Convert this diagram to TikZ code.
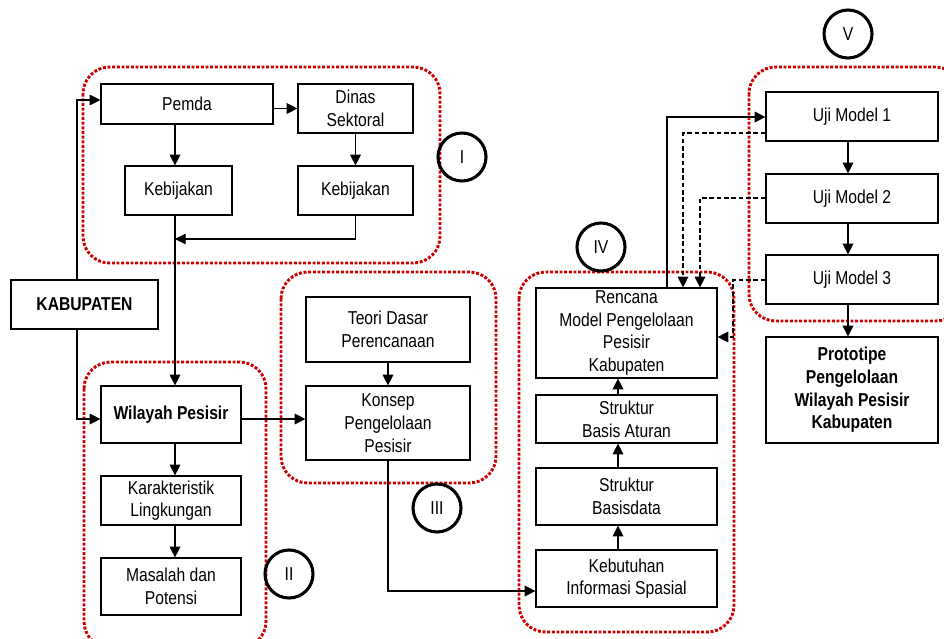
\documentclass[tikz,border=0pt]{standalone}
\usepackage{fontspec}
\setmainfont{Liberation Sans}[FakeStretch=0.84]
\usetikzlibrary{arrows.meta,calc}
\definecolor{grpred}{RGB}{204,0,0}
\begin{document}
\begin{tikzpicture}[x=0.75pt,y=-0.75pt,
  box/.style={draw, line width=0.9pt, align=center, inner sep=0pt,
    font=\fontsize{14}{17}\selectfont},
  bbox/.style={box, font=\fontsize{14}{17}\selectfont\bfseries},
  wh/.style 2 args={minimum width=#1*0.75pt, minimum height=#2*0.75pt},
  grp/.style={draw=grpred, line width=2.2pt, dash pattern=on 2.2pt off 1.3pt,
    rounded corners=20pt},
  tag/.style={draw, circle, line width=2.3pt, minimum size=48*0.75pt,
    inner sep=0pt, font=\fontsize{14}{17}\selectfont},
  arr/.style={line width=0.9pt, -{Triangle[length=8pt,width=8pt]}},
  dsh/.style={line width=0.9pt, dash pattern=on 3.5pt off 2pt,
    -{Triangle[length=8pt,width=8pt]}}]
\useasboundingbox (0,0) rectangle (944,638);

% dotted group outlines
\draw[grp] (83,67) rectangle (440,263);
\draw[grp] (84,362) rectangle (266,648);
\draw[grp] (281,272) rectangle (496,483);
\draw[grp] (519,272) rectangle (734,632);
\draw[grp] (749,67) rectangle (962,321);

% stage markers
\node[tag] (c1) at (462,157) {I};
\node[tag] (c2) at (289,574) {II};
\node[tag] (c3) at (437,508) {III};
\node[tag] (c4) at (601,247) {IV};
\node[tag] (c5) at (848,34) {V};

% boxes
\node[box, wh={172}{40}] (pemda) at (187,104) {Pemda};
\node[box, wh={115}{49}] (dinas) at (355.5,108.5) {Dinas\\Sektoral};
\node[box, wh={107}{49}] (keb1) at (178.5,190.5) {Kebijakan};
\node[box, wh={115}{49}] (keb2) at (355.5,190.5) {Kebijakan};
\node[bbox, wh={147}{49}] (kab) at (84.5,304.5) {KABUPATEN};
\node[bbox, wh={140}{57}] (wil) at (171,414.5) {Wilayah Pesisir};
\node[box, wh={140}{49}] (kar) at (171,500.5) {Karakteristik\\Lingkungan};
\node[box, wh={140}{57}] (mas) at (171,586.5) {Masalah dan\\Potensi};
\node[box, wh={164}{65}] (teori) at (388,329.5) {Teori Dasar\\Perencanaan};
\node[box, wh={164}{74}] (konsep) at (388,423) {Konsep\\Pengelolaan\\Pesisir};
\node[box, wh={181}{90}] (renc) at (626.5,333) {Rencana\\Model Pengelolaan\\Pesisir\\Kabupaten};
\node[box, wh={181}{48}] (atur) at (626.5,419) {Struktur\\Basis Aturan};
\node[box, wh={181}{57}] (bdata) at (626.5,496.5) {Struktur\\Basisdata};
\node[box, wh={181}{57}] (kebut) at (626.5,578.5) {Kebutuhan\\Informasi Spasial};
\node[box, wh={172}{49}] (uji1) at (852,116.5) {Uji Model 1};
\node[box, wh={172}{49}] (uji2) at (852,198.5) {Uji Model 2};
\node[box, wh={172}{49}] (uji3) at (852,279.5) {Uji Model 3};
\node[bbox, wh={172}{106}] (proto) at (852,390) {Prototipe\\Pengelolaan\\Wilayah Pesisir\\Kabupaten};

% routing helpers
\coordinate (kx) at (77,100);
\coordinate (cx) at (175,239);
\coordinate (ry) at (0,419);
\coordinate (ky) at (0,591);
\coordinate (ux) at (618,0);
\coordinate (vx) at (848,0);
\coordinate (sx) at (667,117);
\coordinate (d1) at (683,133);
\coordinate (d2) at (700,198);
\coordinate (d3) at (733,280);
\coordinate (d3b) at (733,337);

% group I
\draw[arr] (kab.north -| kx) |- (pemda.west |- kx);
\draw[arr] (pemda.east |- dinas.west) -- (dinas.west);
\draw[arr] (pemda.south -| cx) -- (keb1.north -| cx);
\draw[arr] (dinas.south) -- (keb2.north);
\draw[arr] (keb2.south) |- (cx);
\draw[arr] (keb1.south -| cx) -- (wil.north -| cx);

% group II
\draw[arr] (kab.south -| kx) |- (wil.west |- ry);
\draw[arr] (wil.south -| cx) -- (kar.north -| cx);
\draw[arr] (kar.south -| cx) -- (mas.north -| cx);

% group III
\draw[arr] (wil.east |- ry) -- (konsep.west |- ry);
\draw[arr] (teori.south) -- (konsep.north);
\draw[arr] (konsep.south) |- (kebut.west |- ky);

% group IV
\draw[arr] (kebut.north -| ux) -- (bdata.south -| ux);
\draw[arr] (bdata.north -| ux) -- (atur.south -| ux);
\draw[arr] (atur.north -| ux) -- (renc.south -| ux);
\draw[arr] (renc.north -| sx) |- (uji1.west |- sx);

% feedback from the tests
\draw[dsh] (uji1.west |- d1) -| (renc.north -| d1);
\draw[dsh] (uji2.west |- d2) -| (renc.north -| d2);
\draw[dsh] (uji3.west |- d3) -- (d3) -- (d3b) -- (renc.east |- d3b);

% group V
\draw[arr] (uji1.south -| vx) -- (uji2.north -| vx);
\draw[arr] (uji2.south -| vx) -- (uji3.north -| vx);
\draw[arr] (uji3.south -| vx) -- (proto.north -| vx);
\end{tikzpicture}
\end{document}
